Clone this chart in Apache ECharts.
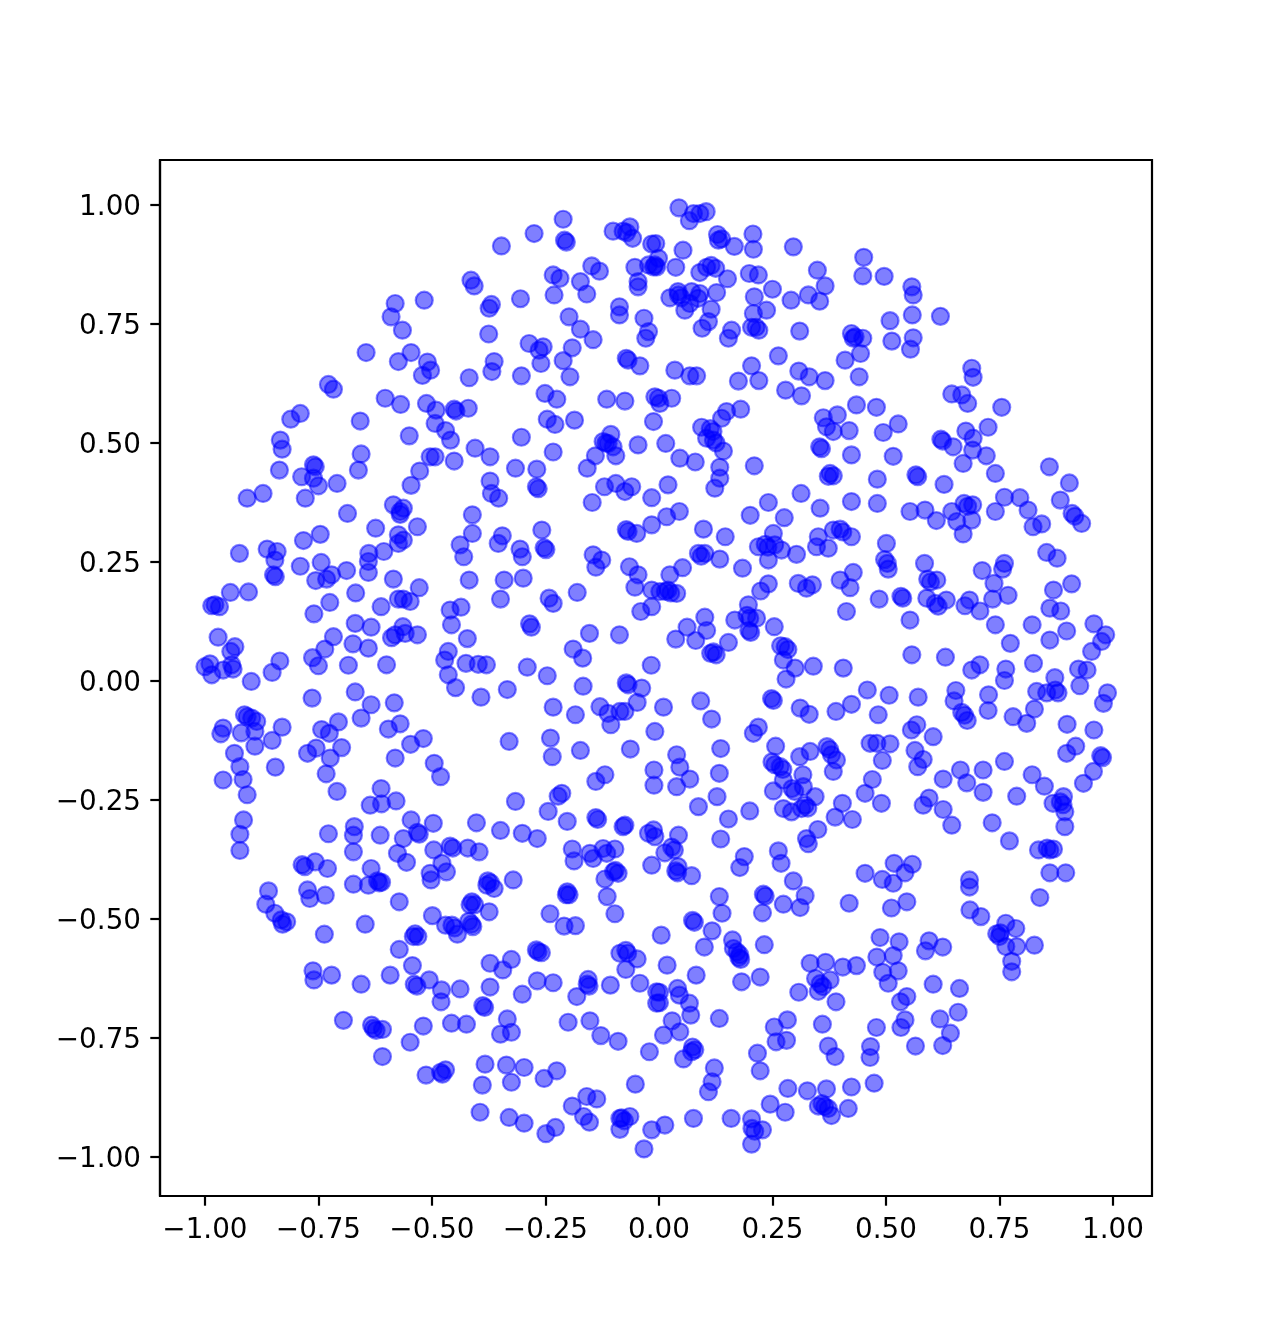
<!DOCTYPE html>
<html>
<head>
<meta charset="utf-8">
<style>
  html, body { margin: 0; padding: 0; background: #fff; }
  #chart { width: 1280px; height: 1344px; }
</style>
<script src="https://cdn.jsdelivr.net/npm/echarts@6/dist/echarts.min.js"></script>
</head>
<body>
<div id="chart"></div>
<script>
// values, one list per part of the disc
const tickValues = [-1, -0.75, -0.5, -0.25, 0, 0.25, 0.5, 0.75, 1]

const upperLeft = [
  [-0.211,0.970],[-0.275,0.940],[-0.347,0.914],[-0.208,0.926],[-0.204,0.922],[-0.101,0.945],[-0.064,0.954],[-0.079,0.945],[-0.071,0.942],[-0.058,0.930],
  [-0.016,0.918],[-0.007,0.919],[-0.148,0.872],[-0.131,0.861],[-0.233,0.853],[-0.218,0.846],[-0.173,0.839],[-0.159,0.813],[-0.231,0.811],[-0.053,0.869],
  [-0.023,0.874],[-0.009,0.874],[-0.046,0.839],[-0.046,0.828],[-0.414,0.842],[-0.407,0.830],[-0.305,0.803],[-0.369,0.791],[-0.374,0.783],[-0.517,0.800],
  [-0.581,0.793],[-0.590,0.765],[-0.565,0.737],[-0.645,0.690],[-0.087,0.786],[-0.087,0.769],[-0.198,0.765],[-0.173,0.739],[-0.145,0.717],[-0.033,0.762],
  [-0.023,0.734],[-0.029,0.720],[-0.286,0.709],[-0.255,0.702],[-0.264,0.695],[-0.260,0.667],[-0.375,0.729],[-0.191,0.700],[-0.211,0.673],[-0.196,0.639],
  [-0.072,0.678],[-0.068,0.674],[-0.042,0.662],[-0.546,0.690],[-0.574,0.671],[-0.510,0.670],[-0.503,0.653],[-0.521,0.642],[-0.363,0.671],[-0.368,0.650],
  [-0.303,0.641],[-0.418,0.637],[-0.728,0.623],[-0.717,0.613],[-0.603,0.594],[-0.569,0.581],[-0.512,0.583],[-0.491,0.569],[-0.451,0.571],[-0.447,0.567],
  [-0.420,0.573],[-0.251,0.604],[-0.225,0.592],[-0.115,0.592],[-0.075,0.588],[-0.009,0.597],[0.002,0.583],[-0.186,0.548],[-0.246,0.550],[-0.229,0.539],
  [-0.012,0.545],[-0.658,0.546],[-0.790,0.562],[-0.811,0.550],[-0.493,0.541],[-0.470,0.526],[-0.459,0.506],[-0.550,0.515],[-0.303,0.512],[-0.106,0.518],
  [-0.123,0.503],[-0.112,0.499],[-0.101,0.492],[-0.117,0.500],[-0.140,0.473],[-0.095,0.473],[-0.046,0.496],[-0.158,0.447],[-0.834,0.506],[-0.830,0.487],[-0.656,0.477],
  [-0.662,0.443],[-0.836,0.443],[-0.761,0.454],[-0.757,0.450],[-0.787,0.429],[-0.761,0.426],[-0.750,0.410],[-0.709,0.415],[-0.779,0.384],[-0.872,0.394],
  [-0.907,0.384],[-0.504,0.471],[-0.493,0.471],[-0.451,0.462],[-0.527,0.441],[-0.546,0.411],[-0.405,0.489],[-0.372,0.471],[-0.316,0.447],[-0.269,0.445],
  [-0.270,0.408],[-0.266,0.404],[-0.233,0.481],[-0.372,0.420],[-0.369,0.394],[-0.353,0.384],[-0.120,0.408],[-0.095,0.415],[-0.075,0.398],[-0.060,0.408],
  [-0.147,0.375],[-0.016,0.385],[-0.585,0.370],[-0.563,0.363],[-0.570,0.356],[-0.570,0.350],[-0.686,0.352],[-0.411,0.349]
]

const middleLeft = [
  [-0.532,0.324],[-0.624,0.321],[-0.574,0.307],[-0.563,0.296],[-0.574,0.289],[-0.746,0.308],[-0.783,0.295],[-0.863,0.277],[-0.841,0.272],[-0.846,0.254],
  [-0.924,0.268],[-0.849,0.223],[-0.845,0.219],[-0.606,0.272],[-0.639,0.268],[-0.640,0.251],[-0.640,0.228],[-0.744,0.249],[-0.790,0.241],[-0.721,0.223],
  [-0.732,0.214],[-0.756,0.211],[-0.688,0.232],[-0.585,0.214],[-0.528,0.196],[-0.668,0.185],[-0.725,0.165],[-0.760,0.141],[-0.944,0.186],[-0.904,0.187],
  [-0.985,0.158],[-0.978,0.160],[-0.968,0.156],[-0.612,0.156],[-0.574,0.172],[-0.563,0.172],[-0.548,0.167],[-0.669,0.121],[-0.634,0.113],[-0.564,0.114],
  [-0.589,0.091],[-0.559,0.100],[-0.581,0.097],[-0.532,0.097],[-0.717,0.093],[-0.736,0.067],[-0.674,0.078],[-0.640,0.069],[-0.763,0.049],[-0.750,0.032],
  [-0.684,0.033],[-0.600,0.034],[-0.971,0.092],[-0.934,0.072],[-0.943,0.062],[-0.989,0.036],[-1.000,0.030],[-0.985,0.013],[-0.960,0.023],[-0.941,0.034],
  [-0.938,0.025],[-0.835,0.042],[-0.852,0.018],[-0.898,-0.001],[-0.764,-0.036],[-0.669,-0.023],[-0.634,-0.050],[-0.583,-0.046],[-0.656,-0.078],[-0.913,-0.071],
  [-0.907,-0.075],[-0.897,-0.078],[-0.886,-0.085],[-0.920,-0.109],[-0.890,-0.106],[-0.960,-0.099],[-0.965,-0.111],[-0.830,-0.097],[-0.852,-0.125],[-0.890,-0.137],
  [-0.935,-0.152],[-0.923,-0.180],[-0.916,-0.207],[-0.960,-0.208],[-0.907,-0.239],[-0.845,-0.181],[-0.706,-0.086],[-0.743,-0.102],[-0.726,-0.110],[-0.699,-0.140],
  [-0.755,-0.141],[-0.774,-0.152],[-0.724,-0.162],[-0.733,-0.195],[-0.709,-0.232],[-0.596,-0.101],[-0.570,-0.090],[-0.519,-0.121],[-0.547,-0.133],[-0.581,-0.162],
  [-0.495,-0.173],[-0.481,-0.201],[-0.612,-0.226],[-0.636,-0.261],[-0.611,-0.258],[-0.579,-0.252],[-0.915,-0.292],[-0.923,-0.322],[-0.411,0.310],[-0.345,0.305],
  [-0.354,0.289],[-0.258,0.317],[-0.253,0.280],[-0.249,0.276],[-0.438,0.286],[-0.430,0.261],[-0.306,0.277],[-0.301,0.261],[-0.299,0.216],[-0.341,0.212],
  [-0.418,0.212],[-0.349,0.172],[-0.242,0.174],[-0.233,0.163],[-0.180,0.186],[-0.285,0.120],[-0.281,0.113],[-0.460,0.149],[-0.436,0.155],[-0.457,0.118],
  [-0.422,0.089],[-0.464,0.062],[-0.472,0.044],[-0.464,0.013],[-0.448,-0.014],[-0.425,0.037],[-0.398,0.035],[-0.380,0.034],[-0.392,-0.034],[-0.334,-0.018],
  [-0.290,0.029],[-0.246,0.011],[-0.153,0.100],[-0.087,0.097],[-0.189,0.067],[-0.168,0.048],[-0.167,-0.011],[-0.017,0.033],[-0.072,-0.004],[-0.068,-0.008],
  [-0.038,-0.015],[-0.048,-0.045],[-0.233,-0.055],[-0.184,-0.071],[-0.130,-0.054],[-0.112,-0.068],[-0.086,-0.064],[-0.075,-0.064],[-0.106,-0.092],[-0.009,-0.106],
  [-0.330,-0.127],[-0.239,-0.120],[-0.235,-0.159],[-0.173,-0.146],[-0.063,-0.143],[-0.011,-0.187],[-0.011,-0.219],[-0.119,-0.197],[-0.139,-0.211],[-0.214,-0.236],
  [-0.222,-0.242],[-0.316,-0.253],[-0.244,-0.274],[-0.202,-0.295],[-0.139,-0.287],[-0.135,-0.291],[-0.075,-0.303],[-0.079,-0.306],[-0.012,-0.313],[-0.023,-0.320],
  [-0.402,-0.298],[-0.349,-0.314],[-0.301,-0.320],[-0.268,-0.331],[-0.546,-0.292],[-0.497,-0.299],[-0.532,-0.318],[-0.528,-0.322],[-0.563,-0.331],[-0.671,-0.306],
  [-0.673,-0.324],[-0.728,-0.321],[-0.614,-0.324],[-0.016,0.328],[-0.049,0.310],[-0.072,0.318],[-0.068,0.314],[-0.145,0.265],[-0.126,0.254],[-0.139,0.239],
  [-0.065,0.240],[-0.046,0.223],[-0.053,0.197],[-0.016,0.191],[0.002,0.188],[-0.016,0.156],[-0.040,0.146]
]

const lowerLeft = [
  [-0.923,-0.356],[-0.673,-0.359],[-0.576,-0.362],[-0.556,-0.381],[-0.496,-0.355],[-0.478,-0.383],[-0.468,-0.401],[-0.460,-0.347],[-0.454,-0.351],[-0.421,-0.351],
  [-0.396,-0.359],[-0.504,-0.404],[-0.502,-0.418],[-0.786,-0.386],[-0.780,-0.390],[-0.757,-0.380],[-0.730,-0.394],[-0.634,-0.394],[-0.673,-0.427],[-0.640,-0.429],
  [-0.620,-0.420],[-0.616,-0.424],[-0.611,-0.423],[-0.860,-0.441],[-0.866,-0.469],[-0.846,-0.488],[-0.832,-0.502],[-0.820,-0.506],[-0.829,-0.511],[-0.774,-0.439],
  [-0.769,-0.457],[-0.735,-0.450],[-0.737,-0.532],[-0.647,-0.511],[-0.572,-0.464],[-0.499,-0.493],[-0.377,-0.420],[-0.371,-0.424],[-0.379,-0.429],[-0.363,-0.436],
  [-0.321,-0.418],[-0.374,-0.485],[-0.412,-0.464],[-0.406,-0.470],[-0.416,-0.470],[-0.419,-0.505],[-0.413,-0.511],[-0.410,-0.516],[-0.470,-0.513],[-0.456,-0.513],
  [-0.450,-0.519],[-0.444,-0.532],[-0.537,-0.531],[-0.531,-0.537],[-0.541,-0.537],[-0.572,-0.564],[-0.543,-0.598],[-0.592,-0.618],[-0.506,-0.628],[-0.539,-0.637],
  [-0.533,-0.641],[-0.479,-0.649],[-0.480,-0.674],[-0.438,-0.647],[-0.762,-0.609],[-0.760,-0.628],[-0.721,-0.618],[-0.656,-0.637],[-0.695,-0.713],[-0.633,-0.723],
  [-0.629,-0.730],[-0.623,-0.734],[-0.609,-0.732],[-0.548,-0.759],[-0.519,-0.725],[-0.457,-0.719],[-0.424,-0.721],[-0.388,-0.682],[-0.384,-0.686],[-0.609,-0.789],
  [-0.372,-0.593],[-0.325,-0.585],[-0.344,-0.607],[-0.372,-0.643],[-0.301,-0.658],[-0.270,-0.565],[-0.266,-0.569],[-0.259,-0.571],[-0.268,-0.630],[-0.233,-0.634],
  [-0.156,-0.627],[-0.158,-0.637],[-0.154,-0.641],[-0.181,-0.663],[-0.107,-0.639],[-0.042,-0.635],[-0.334,-0.710],[-0.349,-0.742],[-0.325,-0.738],[-0.200,-0.717],
  [-0.152,-0.714],[-0.128,-0.745],[-0.090,-0.757],[-0.021,-0.779],[-0.383,-0.805],[-0.336,-0.807],[-0.297,-0.812],[-0.225,-0.819],[-0.253,-0.835],[-0.325,-0.843],
  [-0.389,-0.849],[-0.513,-0.828],[-0.481,-0.822],[-0.477,-0.826],[-0.470,-0.817],[-0.052,-0.847],[-0.159,-0.873],[-0.137,-0.878],[-0.191,-0.893],[-0.166,-0.915],
  [-0.153,-0.927],[-0.394,-0.906],[-0.330,-0.917],[-0.297,-0.929],[-0.228,-0.938],[-0.249,-0.951],[-0.086,-0.919],[-0.082,-0.918],[-0.076,-0.924],[-0.064,-0.915],
  [-0.086,-0.942],[-0.016,-0.943],[-0.033,-0.983],[-0.191,-0.353],[-0.187,-0.378],[-0.152,-0.362],[-0.145,-0.373],[-0.123,-0.352],[-0.097,-0.353],[-0.115,-0.362],
  [-0.096,-0.398],[-0.090,-0.404],[-0.100,-0.401],[-0.119,-0.416],[-0.114,-0.453],[-0.097,-0.489],[-0.202,-0.443],[-0.198,-0.449],[-0.204,-0.449],[-0.240,-0.489],
  [-0.209,-0.515],[-0.184,-0.514],[-0.086,-0.572],[-0.073,-0.566],[-0.069,-0.572],[-0.048,-0.584],[-0.073,-0.606],[-0.016,-0.387],[-0.005,-0.653],[-0.005,-0.677]
]

const lowerRight = [
  [0.136,-0.332],[0.043,-0.324],[-0.009,-0.327],[0.028,-0.349],[0.034,-0.355],[0.013,-0.361],[0.042,-0.390],[0.037,-0.399],[0.041,-0.403],[0.072,-0.409],
  [0.188,-0.369],[0.178,-0.392],[0.263,-0.357],[0.269,-0.383],[0.329,-0.342],[0.296,-0.420],[0.230,-0.448],[0.234,-0.452],[0.322,-0.451],[0.274,-0.469],
  [0.311,-0.476],[0.228,-0.487],[0.133,-0.453],[0.139,-0.488],[0.074,-0.503],[0.078,-0.507],[0.117,-0.525],[0.005,-0.534],[0.100,-0.559],[0.162,-0.544],
  [0.164,-0.562],[0.172,-0.569],[0.178,-0.575],[0.176,-0.581],[0.180,-0.585],[0.232,-0.554],[0.018,-0.597],[0.082,-0.618],[0.182,-0.632],[0.223,-0.622],
  [0.001,-0.654],[0.001,-0.676],[0.041,-0.646],[0.045,-0.660],[0.067,-0.677],[0.070,-0.702],[0.029,-0.714],[0.046,-0.737],[0.010,-0.744],[0.133,-0.709],
  [0.074,-0.769],[0.079,-0.775],[0.072,-0.779],[0.054,-0.794],[0.122,-0.813],[0.117,-0.842],[0.109,-0.863],[0.217,-0.782],[0.223,-0.819],[0.254,-0.727],
  [0.283,-0.712],[0.258,-0.758],[0.281,-0.755],[0.360,-0.721],[0.373,-0.767],[0.388,-0.789],[0.466,-0.768],[0.465,-0.791],[0.479,-0.728],[0.542,-0.712],
  [0.533,-0.728],[0.565,-0.767],[0.619,-0.710],[0.659,-0.696],[0.642,-0.740],[0.625,-0.766],[0.474,-0.845],[0.424,-0.853],[0.369,-0.857],[0.327,-0.861],
  [0.284,-0.856],[0.245,-0.889],[0.278,-0.906],[0.351,-0.893],[0.359,-0.888],[0.365,-0.894],[0.380,-0.913],[0.373,-0.898],[0.417,-0.898],[0.076,-0.919],
  [0.159,-0.919],[0.204,-0.920],[0.205,-0.940],[0.211,-0.946],[0.228,-0.943],[0.204,-0.973],[0.013,-0.933],[0.333,-0.593],[0.367,-0.591],[0.405,-0.601],
  [0.435,-0.598],[0.345,-0.625],[0.377,-0.628],[0.355,-0.636],[0.361,-0.642],[0.351,-0.652],[0.308,-0.654],[0.390,-0.674],[0.454,-0.404],[0.492,-0.417],
  [0.516,-0.425],[0.518,-0.383],[0.558,-0.385],[0.542,-0.403],[0.419,-0.467],[0.512,-0.477],[0.546,-0.464],[0.487,-0.539],[0.529,-0.548],[0.480,-0.580],
  [0.516,-0.577],[0.595,-0.546],[0.587,-0.567],[0.625,-0.559],[0.527,-0.609],[0.493,-0.612],[0.505,-0.635],[0.604,-0.637],[0.662,-0.646],[0.546,-0.663],
  [0.532,-0.674],[0.684,-0.418],[0.684,-0.433],[0.685,-0.481],[0.709,-0.495],[0.772,-0.336],[0.836,-0.355],[0.855,-0.351],[0.861,-0.355],[0.869,-0.353],
  [0.861,-0.403],[0.896,-0.403],[0.839,-0.455],[0.764,-0.509],[0.786,-0.520],[0.744,-0.531],[0.750,-0.537],[0.752,-0.529],[0.764,-0.558],[0.788,-0.558],
  [0.827,-0.555],[0.777,-0.589],[0.777,-0.611]
]

const upperRight = [
  [0.044,0.994],[0.076,0.982],[0.067,0.967],[0.104,0.986],[0.090,0.982],[-0.001,0.888],[-0.005,0.870],[-0.012,0.870],[0.053,0.905],[0.037,0.869],
  [0.129,0.938],[0.138,0.929],[0.131,0.926],[0.166,0.913],[0.207,0.939],[0.208,0.907],[0.296,0.912],[0.090,0.858],[0.115,0.873],[0.125,0.867],
  [0.105,0.869],[0.151,0.845],[0.199,0.856],[0.219,0.853],[0.250,0.823],[0.349,0.863],[0.366,0.830],[0.329,0.811],[0.291,0.800],[0.354,0.798],
  [0.451,0.890],[0.449,0.851],[0.496,0.850],[0.557,0.828],[0.560,0.811],[0.558,0.769],[0.620,0.766],[0.509,0.757],[0.513,0.714],[0.560,0.721],
  [0.554,0.697],[0.424,0.730],[0.428,0.720],[0.449,0.720],[0.432,0.723],[0.444,0.688],[0.410,0.674],[0.441,0.639],[0.042,0.818],[0.024,0.805],
  [0.043,0.811],[0.049,0.805],[0.072,0.818],[0.090,0.814],[0.068,0.793],[0.086,0.804],[0.057,0.779],[0.127,0.816],[0.115,0.781],[0.109,0.755],
  [0.095,0.741],[0.160,0.737],[0.153,0.720],[0.210,0.807],[0.237,0.779],[0.208,0.772],[0.204,0.743],[0.214,0.743],[0.220,0.737],[0.310,0.735],
  [0.263,0.683],[0.204,0.662],[0.175,0.630],[0.220,0.631],[0.035,0.653],[0.068,0.641],[0.083,0.641],[0.308,0.651],[0.331,0.639],[0.366,0.631],
  [0.279,0.611],[0.314,0.599],[0.028,0.594],[-0.001,0.594],[0.149,0.566],[0.138,0.552],[0.180,0.571],[0.094,0.533],[0.113,0.530],[0.119,0.524],[0.105,0.510],
  [0.120,0.506],[0.126,0.500],[0.142,0.483],[0.015,0.499],[0.046,0.468],[0.080,0.460],[0.134,0.449],[0.134,0.426],[0.123,0.405],[0.210,0.452],
  [0.020,0.412],[0.435,0.580],[0.479,0.575],[0.362,0.553],[0.393,0.559],[0.369,0.534],[0.384,0.524],[0.419,0.526],[0.354,0.492],[0.358,0.488],
  [0.424,0.475],[0.494,0.522],[0.527,0.540],[0.516,0.472],[0.481,0.424],[0.377,0.436],[0.384,0.431],[0.373,0.430],[0.566,0.433],[0.570,0.429],
  [0.621,0.508],[0.625,0.504],[0.648,0.492],[0.676,0.525],[0.692,0.510],[0.725,0.533],[0.691,0.485],[0.721,0.473],[0.670,0.457],[0.741,0.436],
  [0.628,0.413],[0.689,0.657],[0.692,0.638],[0.645,0.603],[0.667,0.601],[0.680,0.583],[0.755,0.575],[0.860,0.450],[0.904,0.416],[0.884,0.380],
  [0.761,0.386],[0.795,0.385],[0.813,0.359],[0.741,0.356],[0.672,0.373],[0.680,0.367],[0.691,0.370],[0.645,0.356],[0.586,0.359],[0.553,0.356],
  [0.313,0.394],[0.241,0.375],[0.355,0.363],[0.424,0.377],[0.481,0.373],[0.201,0.348],[0.276,0.343],[0.045,0.356],[0.017,0.345],[0.910,0.352],
  [0.916,0.346],[0.931,0.331]
]

const middleRight = [
  [0.098,0.319],[0.146,0.303],[0.087,0.268],[0.093,0.262],[0.101,0.268],[0.134,0.256],[0.052,0.238],[0.024,0.223],[0.184,0.237],[0.252,0.310],
  [0.219,0.282],[0.234,0.287],[0.240,0.281],[0.255,0.286],[0.270,0.275],[0.241,0.254],[0.303,0.266],[0.351,0.303],[0.347,0.282],[0.373,0.279],
  [0.384,0.317],[0.399,0.319],[0.405,0.313],[0.424,0.303],[0.501,0.289],[0.497,0.255],[0.503,0.247],[0.505,0.235],[0.585,0.247],[0.592,0.214],
  [0.598,0.208],[0.612,0.212],[0.399,0.212],[0.428,0.228],[0.421,0.196],[0.307,0.205],[0.325,0.195],[0.338,0.202],[0.241,0.204],[0.224,0.189],
  [0.485,0.172],[0.533,0.178],[0.537,0.174],[0.413,0.146],[0.553,0.128],[0.590,0.174],[0.609,0.163],[0.615,0.157],[0.633,0.170],[0.684,0.170],
  [0.674,0.158],[0.707,0.147],[0.735,0.172],[0.769,0.180],[0.738,0.205],[0.712,0.232],[0.761,0.247],[0.757,0.235],[0.854,0.270],[0.877,0.258],
  [0.869,0.191],[0.909,0.204],[0.861,0.153],[0.885,0.147],[0.741,0.118],[0.822,0.118],[0.774,0.079],[0.898,0.105],[0.861,0.086],[0.958,0.120],
  [0.984,0.097],[0.975,0.083],[0.953,0.062],[0.825,0.037],[0.924,0.025],[0.943,0.023],[0.927,-0.010],[0.872,0.007],[0.873,-0.019],[0.879,-0.025],
  [0.854,-0.025],[0.832,-0.022],[0.988,-0.025],[0.979,-0.047],[0.827,-0.059],[0.780,-0.075],[0.810,-0.089],[0.899,-0.091],[0.958,-0.103],[0.918,-0.137],
  [0.898,-0.152],[0.973,-0.157],[0.977,-0.161],[0.957,-0.190],[0.935,-0.215],[0.822,-0.197],[0.849,-0.221],[0.891,-0.243],[0.868,-0.257],[0.884,-0.254],
  [0.890,-0.260],[0.894,-0.275],[0.894,-0.306],[0.788,-0.242],[0.734,-0.298],[0.824,0.324],[0.843,0.330],[0.670,0.309],[0.656,0.335],[0.689,0.338],
  [0.611,0.337],[0.020,0.191],[0.026,0.185],[0.014,0.188],[0.039,0.184],[0.101,0.134],[0.062,0.113],[0.105,0.106],[0.037,0.088],[0.081,0.085],
  [0.120,0.061],[0.126,0.055],[0.114,0.058],[0.153,0.081],[0.197,0.160],[0.167,0.128],[0.194,0.138],[0.200,0.132],[0.215,0.132],[0.198,0.106],
  [0.202,0.102],[0.254,0.114],[0.268,0.074],[0.278,0.072],[0.284,0.066],[0.274,0.044],[0.300,0.027],[0.340,0.031],[0.280,0.004],[0.406,0.027],
  [0.248,-0.037],[0.252,-0.041],[0.311,-0.057],[0.331,-0.070],[0.459,-0.019],[0.507,-0.030],[0.424,-0.049],[0.390,-0.064],[0.483,-0.071],[0.571,-0.034],
  [0.557,0.055],[0.631,0.050],[0.707,0.034],[0.689,0.023],[0.764,0.025],[0.761,0.001],[0.654,-0.020],[0.650,-0.042],[0.726,-0.029],[0.725,-0.062],
  [0.667,-0.066],[0.673,-0.072],[0.679,-0.083],[0.010,-0.055],[0.092,-0.042],[0.116,-0.080],[0.219,-0.097],[0.208,-0.110],[0.136,-0.142],[0.568,-0.092],
  [0.556,-0.103],[0.604,-0.117],[0.564,-0.146],[0.582,-0.165],[0.570,-0.180],[0.465,-0.131],[0.480,-0.131],[0.509,-0.132],[0.492,-0.167],[0.257,-0.137],
  [0.249,-0.170],[0.255,-0.176],[0.267,-0.180],[0.273,-0.186],[0.274,-0.208],[0.310,-0.159],[0.333,-0.148],[0.370,-0.138],[0.376,-0.144],[0.380,-0.155],
  [0.391,-0.166],[0.384,-0.190],[0.317,-0.197],[0.252,-0.231],[0.293,-0.226],[0.299,-0.232],[0.318,-0.222],[0.344,-0.243],[0.274,-0.268],[0.292,-0.275],
  [0.322,-0.261],[0.328,-0.267],[0.314,-0.268],[0.470,-0.207],[0.454,-0.236],[0.490,-0.257],[0.404,-0.257],[0.388,-0.286],[0.426,-0.291],[0.350,-0.312],
  [0.325,-0.331],[0.200,-0.273],[0.153,-0.290],[0.128,-0.243],[0.087,-0.264],[0.133,-0.194],[0.039,-0.155],[0.046,-0.181],[0.068,-0.206],[0.039,-0.222],
  [0.626,-0.206],[0.664,-0.187],[0.678,-0.214],[0.714,-0.187],[0.714,-0.234],[0.761,-0.169],[0.595,-0.246],[0.582,-0.261],[0.626,-0.270],[0.645,-0.303]
]

const allPoints = [...upperLeft, ...upperRight, ...middleLeft, ...middleRight, ...lowerLeft, ...lowerRight]

var myChart = echarts.init(document.getElementById('chart'), null, { renderer: 'canvas' })

const tickFont = { fontFamily: 'DejaVu Sans', fontSize: 27.8, color: '#000' }
const formatTick = function(v) {
  return (v < 0 ? '\u2212' : '') + Math.abs(v).toFixed(2)
}
const lineStyle = { color: '#000', width: 2.2 }

const option = {
  animation: false,
  backgroundColor: '#fff',
  grid: {
    left: 160,
    top: 160,
    width: 992,
    height: 1036,
    show: true,
    borderColor: '#000',
    borderWidth: 2.2,
    backgroundColor: 'transparent'
  },
  xAxis: {
    type: 'value',
    min: -1.099,
    max: 1.086,
    splitLine: { show: false },
    axisLine: { onZero: false, lineStyle },
    axisTick: { length: 9.7, lineStyle, customValues: tickValues },
    axisLabel: { ...tickFont, margin: 21, formatter: formatTick, customValues: tickValues }
  },
  yAxis: {
    type: 'value',
    min: -1.082,
    max: 1.0945,
    splitLine: { show: false },
    axisLine: { onZero: false, lineStyle },
    axisTick: { length: 9.7, lineStyle, customValues: tickValues },
    // small line box hung from the tick, pushes the text down to sit level with it
    axisLabel: { ...tickFont, margin: 19, verticalAlign: 'top', lineHeight: 6, formatter: formatTick, customValues: tickValues }
  },
  series: [
    {
      type: 'scatter',
      data: allPoints,
      symbolSize: 17,
      silent: true,
      itemStyle: {
        color: '#0000ff',
        opacity: 0.5,
        borderColor: '#0000ff',
        borderWidth: 2.2
      }
    }
  ]
}
myChart.setOption(option)
</script>
</body>
</html>
